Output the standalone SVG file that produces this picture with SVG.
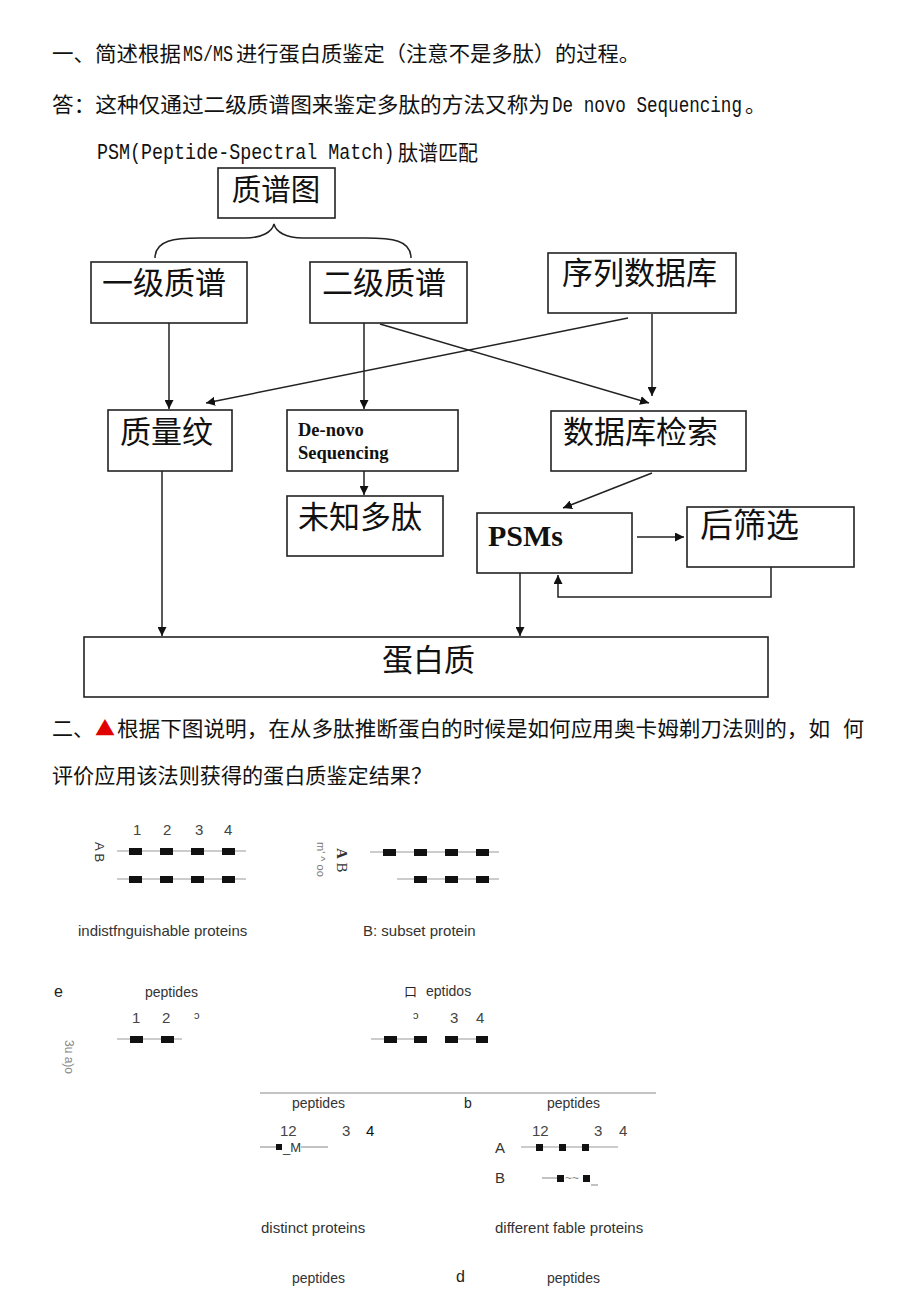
<svg xmlns="http://www.w3.org/2000/svg" width="920" height="1302" viewBox="0 0 920 1302">
<defs>
<marker id="ah" viewBox="0 0 10 10" refX="10" refY="5" markerWidth="9" markerHeight="9" markerUnits="userSpaceOnUse" orient="auto">
<path d="M0,0 L10,5 L0,10 z" fill="#111"/>
</marker>
<style>
.hd{font-family:"Noto Sans CJK SC","Liberation Sans",sans-serif;font-size:21px;fill:#111}
.mono{font-family:"Liberation Mono","DejaVu Sans Mono",monospace;font-size:22px;fill:#111}
.box{fill:#fff;stroke:#222;stroke-width:1.6}
.bt{font-family:"Noto Sans CJK SC",sans-serif;font-size:31px;fill:#111}
.bs{font-family:"Liberation Serif",serif;font-weight:bold;fill:#111}
.cn{fill:none;stroke:#222;stroke-width:1.5}
.ft{font-family:"Liberation Sans",Arial,sans-serif;font-size:14px;fill:#333}
.cap{font-family:"Liberation Sans",Arial,sans-serif;font-size:15px;fill:#333}
.fn{font-family:"Liberation Sans",Arial,sans-serif;font-size:15px;fill:#444}
.pl{stroke:#999;stroke-width:1.2}
.sq{fill:#111}
</style>
</defs>
<rect width="920" height="1302" fill="#fff"/>

<g id="heading">
<text class="hd" x="52" y="61" textLength="129" lengthAdjust="spacingAndGlyphs">一、简述根据</text>
<text class="mono" transform="translate(183,61) scale(0.76,1)">MS/MS</text>
<text class="hd" x="236" y="61" textLength="404" lengthAdjust="spacingAndGlyphs">进行蛋白质鉴定（注意不是多肽）的过程。</text>
<text class="hd" x="52" y="112" textLength="498" lengthAdjust="spacingAndGlyphs">答：这种仅通过二级质谱图来鉴定多肽的方法又称为</text>
<text class="mono" transform="translate(552,112) scale(0.8,1)">De novo Sequencing</text>
<text class="hd" x="745" y="112">。</text>
<text class="mono" transform="translate(97,159) scale(0.835,1)">PSM(Peptide-Spectral Match)</text>
<text class="hd" x="398" y="160" textLength="80" lengthAdjust="spacingAndGlyphs">肽谱匹配</text>
</g>

<g id="connectors">
<path class="cn" d="M155,258 C155,240 175,238 200,238 L245,238 C262,238 272,232 274,224 C276,232 286,238 303,238 L365,238 C392,238 411,240 411,258"/>
<line class="cn" x1="169" y1="323" x2="169" y2="409" marker-end="url(#ah)"/>
<line class="cn" x1="364" y1="323" x2="364" y2="409" marker-end="url(#ah)"/>
<line class="cn" x1="380" y1="324" x2="649" y2="403" marker-end="url(#ah)"/>
<line class="cn" x1="652" y1="314" x2="652" y2="396" marker-end="url(#ah)"/>
<line class="cn" x1="628" y1="318" x2="206" y2="403" marker-end="url(#ah)"/>
<line class="cn" x1="364" y1="471" x2="364" y2="495" marker-end="url(#ah)"/>
<line class="cn" x1="652" y1="473" x2="563" y2="508" marker-end="url(#ah)"/>
<line class="cn" x1="637" y1="537" x2="684" y2="537" marker-end="url(#ah)"/>
<polyline class="cn" points="771,567 771,597 558,597 558,575" marker-end="url(#ah)"/>
<line class="cn" x1="162" y1="471" x2="162" y2="636" marker-end="url(#ah)"/>
<line class="cn" x1="520" y1="573" x2="520" y2="636" marker-end="url(#ah)"/>
</g>

<g id="n-spectrum"><rect class="box" x="218" y="168" width="117" height="50"/><text class="bt" x="276" y="200" text-anchor="middle" style="font-size:29.5px">质谱图</text></g>
<g id="n-ms1"><rect class="box" x="91" y="262" width="156" height="61"/><text class="bt" x="164" y="294" text-anchor="middle">一级质谱</text></g>
<g id="n-ms2"><rect class="box" x="310" y="262" width="157" height="61"/><text class="bt" x="384" y="294" text-anchor="middle">二级质谱</text></g>
<g id="n-seqdb"><rect class="box" x="548" y="253" width="188" height="60"/><text class="bt" x="562" y="284">序列数据库</text></g>
<g id="n-pmf"><rect class="box" x="108" y="410" width="124" height="61"/><text class="bt" x="120" y="443">质量纹</text></g>
<g id="n-denovo"><rect class="box" x="287" y="410" width="171" height="61"/><text class="bs" x="298" y="436" font-size="18.5">De-novo</text><text class="bs" x="298" y="459" font-size="18.5">Sequencing</text></g>
<g id="n-dbsearch"><rect class="box" x="551" y="411" width="195" height="60"/><text class="bt" x="563" y="443">数据库检索</text></g>
<g id="n-unknown"><rect class="box" x="287" y="496" width="156" height="60"/><text class="bt" x="298" y="528">未知多肽</text></g>
<g id="n-psms"><rect class="box" x="477" y="513" width="155" height="60"/><text class="bs" x="488" y="546" font-size="30">PSMs</text></g>
<g id="n-filter"><rect class="box" x="687" y="507" width="167" height="60"/><text class="bt" x="700" y="537" style="font-size:33px">后筛选</text></g>
<g id="n-protein"><rect class="box" x="84" y="637" width="684" height="60"/><text class="bt" x="382" y="671">蛋白质</text></g>

<g id="question2">
<text class="hd" x="52" y="736" textLength="42" lengthAdjust="spacingAndGlyphs">二、</text>
<text class="hd" x="95" y="736" style="fill:#e00000;font-size:20px">▲</text>
<text class="hd" x="117" y="736" textLength="713" lengthAdjust="spacingAndGlyphs">根据下图说明，在从多肽推断蛋白的时候是如何应用奥卡姆剃刀法则的，如</text>
<text class="hd" x="843" y="736">何</text>
<text class="hd" x="52" y="783" textLength="380" lengthAdjust="spacingAndGlyphs">评价应用该法则获得的蛋白质鉴定结果？</text>
</g>

<g id="panel-a">
<text class="fn" y="835"><tspan x="133">1</tspan><tspan x="163">2</tspan><tspan x="195">3</tspan><tspan x="224">4</tspan></text>
<text class="ft" style="font-size:13px" transform="translate(95,842) rotate(90)">A B</text>
<line class="pl" x1="117" y1="851" x2="246" y2="851"/>
<rect class="sq" x="129" y="848" width="13" height="7"/><rect class="sq" x="160" y="848" width="13" height="7"/><rect class="sq" x="191" y="848" width="13" height="7"/><rect class="sq" x="222" y="848" width="13" height="7"/>
<line class="pl" x1="117" y1="879" x2="246" y2="879"/>
<rect class="sq" x="129" y="876" width="13" height="7"/><rect class="sq" x="160" y="876" width="13" height="7"/><rect class="sq" x="191" y="876" width="13" height="7"/><rect class="sq" x="222" y="876" width="13" height="7"/>
<text class="cap" x="78" y="936">indistfnguishable proteins</text>
</g>

<g id="panel-b">
<text class="ft" style="font-size:11px;fill:#777" transform="translate(317,842) rotate(90)">m' ^ oo</text>
<text style="font-family:'Liberation Serif',serif;font-size:15px;fill:#333" transform="translate(337,848) rotate(90)"><tspan font-weight="bold">A</tspan> B</text>
<line class="pl" x1="370" y1="852" x2="499" y2="852"/>
<rect class="sq" x="383" y="849" width="13" height="7"/><rect class="sq" x="414" y="849" width="13" height="7"/><rect class="sq" x="445" y="849" width="13" height="7"/><rect class="sq" x="476" y="849" width="13" height="7"/>
<line class="pl" x1="397" y1="879" x2="499" y2="879"/>
<rect class="sq" x="414" y="876" width="13" height="7"/><rect class="sq" x="445" y="876" width="13" height="7"/><rect class="sq" x="476" y="876" width="13" height="7"/>
<text class="cap" x="363" y="936">B: subset protein</text>
</g>

<g id="panel-c">
<text class="ft" x="54" y="997" style="font-size:16px;fill:#222">e</text>
<text class="ft" x="145" y="997">peptides</text>
<text class="fn" y="1023"><tspan x="132">1</tspan><tspan x="162">2</tspan></text>
<text class="ft" x="194" y="1019" style="font-size:11px">ɔ</text>
<text class="ft" style="font-size:12px;fill:#888" transform="translate(65,1040) rotate(90)">3u a)o</text>
<line class="pl" x1="117" y1="1039" x2="182" y2="1039"/>
<rect class="sq" x="130" y="1036" width="13" height="7"/><rect class="sq" x="161" y="1036" width="13" height="7"/>
<text x="404" y="996" style="font-family:'Noto Sans CJK SC',sans-serif;font-size:13px;fill:#222">口</text>
<text class="ft" x="426" y="996">eptidos</text>
<text class="ft" x="413" y="1019" style="font-size:11px">ɔ</text>
<text class="fn" y="1023"><tspan x="450">3</tspan><tspan x="476">4</tspan></text>
<line class="pl" x1="371" y1="1039" x2="427" y2="1039"/>
<line class="pl" x1="445" y1="1039" x2="488" y2="1039"/>
<rect class="sq" x="384" y="1036" width="13" height="7"/><rect class="sq" x="414" y="1036" width="13" height="7"/><rect class="sq" x="445" y="1036" width="13" height="7"/><rect class="sq" x="476" y="1036" width="12" height="7"/>
<line x1="260" y1="1093" x2="656" y2="1093" stroke="#888" stroke-width="1"/>
</g>

<g id="panel-d">
<text class="ft" x="292" y="1108">peptides</text>
<text class="ft" x="464" y="1108" style="fill:#222">b</text>
<text class="ft" x="547" y="1108">peptides</text>
<text class="fn" y="1136"><tspan x="280">12</tspan><tspan x="342">3</tspan><tspan x="366" style="fill:#111">4</tspan></text>
<line class="pl" x1="260" y1="1147" x2="276" y2="1147"/>
<rect class="sq" x="276" y="1144" width="6" height="6"/>
<text class="ft" x="283" y="1152" style="font-size:13px">_M</text>
<line class="pl" x1="301" y1="1147" x2="328" y2="1147"/>
<text class="fn" y="1136"><tspan x="532">12</tspan><tspan x="594">3</tspan><tspan x="619">4</tspan></text>
<text class="cap" x="495" y="1153">A</text>
<line class="pl" x1="521" y1="1147" x2="618" y2="1147"/>
<rect class="sq" x="536" y="1144" width="7" height="7"/><rect class="sq" x="559" y="1144" width="7" height="7"/><rect class="sq" x="582" y="1144" width="7" height="7"/>
<text class="cap" x="495" y="1183">B</text>
<line class="pl" x1="542" y1="1178" x2="557" y2="1178"/>
<rect class="sq" x="557" y="1175" width="7" height="7"/>
<text class="ft" x="565" y="1182" style="font-size:12px;fill:#888">~~</text>
<rect class="sq" x="583" y="1175" width="7" height="7"/>
<line class="pl" x1="591" y1="1185" x2="598" y2="1185"/>
<text class="cap" x="261" y="1233">distinct proteins</text>
<text class="cap" x="495" y="1233">different fable proteins</text>
<text class="ft" x="292" y="1283">peptides</text>
<text class="ft" x="456" y="1282" style="font-size:16px;fill:#222">d</text>
<text class="ft" x="547" y="1283">peptides</text>
</g>
</svg>
